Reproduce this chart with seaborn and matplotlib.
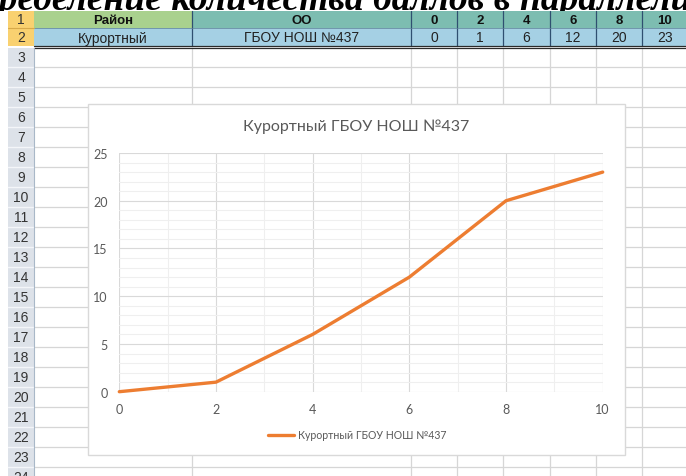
import matplotlib
matplotlib.use("Agg")
import matplotlib.pyplot as plt
from matplotlib.patches import Rectangle
from matplotlib.ticker import MultipleLocator
import seaborn as sns
import pandas as pd

# ---------------- data ----------------
district = "Курортный"
school = "ГБОУ НОШ №437"
scores = [0, 2, 4, 6, 8, 10]
counts = [0, 1, 6, 12, 20, 23]
header_labels = ["Район", "ОО"]
page_heading = "Распределение количества баллов в параллели"
row_numbers = list(range(1, 25))

W, H = 686, 477
sns.set_style("white")
plt.rcParams['font.family'] = ['Lato', 'DejaVu Sans']

fig = plt.figure(figsize=(W / 100, H / 100), dpi=100)
bg = fig.add_axes([0, 0, 1, 1])
bg.set_xlim(0, W)
bg.set_ylim(H, 0)
bg.axis('off')

CELL_FONT = ['Liberation Sans Narrow', 'Liberation Sans', 'DejaVu Sans']

# heading text (cut off at the top of the screenshot)
bg.text(692, 10, page_heading, ha='right', va='baseline', fontsize=27,
        fontweight='bold', fontstyle='italic',
        family=['Liberation Serif', 'DejaVu Serif'], color='black', zorder=1)

# sheet geometry
col_edges = [34, 192, 411, 457, 503, 550, 596, 642, 688]
grid_c = '#D6D6D6'
bg.add_patch(Rectangle((0, 12), W, H, facecolor='white', edgecolor='none', zorder=1.5))

y = 68
while y < H:
    bg.plot([34, W], [y, y], color=grid_c, lw=0.9, zorder=2)
    y += 20
for x in col_edges[1:]:
    bg.plot([x, x], [49, H], color=grid_c, lw=0.9, zorder=2)

# header rows
row1_colors = ['#A9D18E'] + ['#7DBDB1'] * 7
row2_color = '#A5D0E4'
for i in range(len(col_edges) - 1):
    x0, x1 = col_edges[i], col_edges[i + 1]
    bg.add_patch(Rectangle((x0, 12), x1 - x0, 17, facecolor=row1_colors[i],
                           edgecolor='none', zorder=2))
    bg.add_patch(Rectangle((x0, 29), x1 - x0, 18, facecolor=row2_color,
                           edgecolor='none', zorder=2))
for x in col_edges[1:]:
    bg.plot([x, x], [12, 47], color='#2F4F70', lw=0.9, zorder=2.5)
bg.plot([34, W], [29, 29], color='#5B7F95', lw=0.5, zorder=2.5)
bg.plot([34, W], [46.7, 46.7], color='#2B2B2B', lw=0.9, zorder=2.5)
bg.plot([34, W], [48.8, 48.8], color='#2B2B2B', lw=0.9, zorder=2.5)

row1_texts = header_labels + [str(s) for s in scores]
row2_texts = [district, school] + [str(c) for c in counts]
for i in range(len(col_edges) - 1):
    cx = (col_edges[i] + col_edges[i + 1]) / 2
    bg.text(cx, 21, row1_texts[i], ha='center', va='center', fontsize=9.5,
            fontweight='bold', family=CELL_FONT, color='#111111', zorder=3)
    bg.text(cx, 38.5, row2_texts[i], ha='center', va='center', fontsize=10,
            family=CELL_FONT, color='#222222', zorder=3)

# row headers
bg.add_patch(Rectangle((8, 12), 26, 35, facecolor='#F9D170', edgecolor='none', zorder=2))
bg.plot([8, 34], [29, 29], color='#D7A94A', lw=0.8, zorder=2.5)
bg.add_patch(Rectangle((8, 49), 26, H, facecolor='#DDE2E9', edgecolor='none', zorder=2))
y = 68
while y < H:
    bg.plot([8, 34], [y, y], color='#F4F6F9', lw=1.0, zorder=2.5)
    y += 20
bg.plot([34, 34], [49, H], color='#A9B8C8', lw=0.8, zorder=2.5)
for n in row_numbers:
    if n == 1:
        cy = 20.5
    elif n == 2:
        cy = 38
    else:
        cy = 58 + 20 * (n - 3)
    bg.text(21, cy, str(n), ha='center', va='center', fontsize=10,
            family=CELL_FONT, color='#333333', zorder=3)

# chart box
bg.add_patch(Rectangle((88, 105), 537, 351, facecolor='white',
                       edgecolor='#D9D9D9', lw=1.0, zorder=3))
bg.text(356, 127, f"{district} {school}", ha='center', va='center',
        fontsize=11.5, color='#595959', zorder=4)

# ---------------- chart ----------------
L, R, T, B = 119.3, 602.7, 154, 392.7
ax = fig.add_axes([L / W, 1 - B / H, (R - L) / W, (B - T) / H], zorder=5)
ax.set_facecolor('none')
df = pd.DataFrame({'score': scores, 'count': counts})
sns.lineplot(data=df, x='score', y='count', ax=ax, color='#ED7D31',
             linewidth=2.4, label=f"{district} {school}", legend=False)
for ln in ax.lines:
    ln.set_clip_on(False)
    ln.set_solid_capstyle('round')
    ln.set_solid_joinstyle('round')
ax.set_xlim(0, 10)
ax.set_ylim(0, 25)
ax.xaxis.set_major_locator(MultipleLocator(2))
ax.xaxis.set_minor_locator(MultipleLocator(1))
ax.yaxis.set_major_locator(MultipleLocator(5))
ax.yaxis.set_minor_locator(MultipleLocator(1))
ax.grid(which='major', color='#D9D9D9', lw=0.8)
ax.grid(which='minor', color='#EFEFEF', lw=0.8)
ax.set_axisbelow(True)
for s in ax.spines.values():
    s.set_visible(False)
ax.tick_params(which='both', length=0, labelcolor='#595959', labelsize=9)
ax.tick_params(axis='y', pad=8.5)
ax.tick_params(axis='x', pad=8.0)
ax.set_xlabel('')
ax.set_ylabel('')

leg = ax.legend(loc='center', bbox_to_anchor=(357 / W, 1 - 436 / H),
                bbox_transform=fig.transFigure, frameon=False, fontsize=7.6,
                handlelength=2.45, handletextpad=0.4, labelcolor='#595959')

fig.savefig('out.png', dpi=100)
